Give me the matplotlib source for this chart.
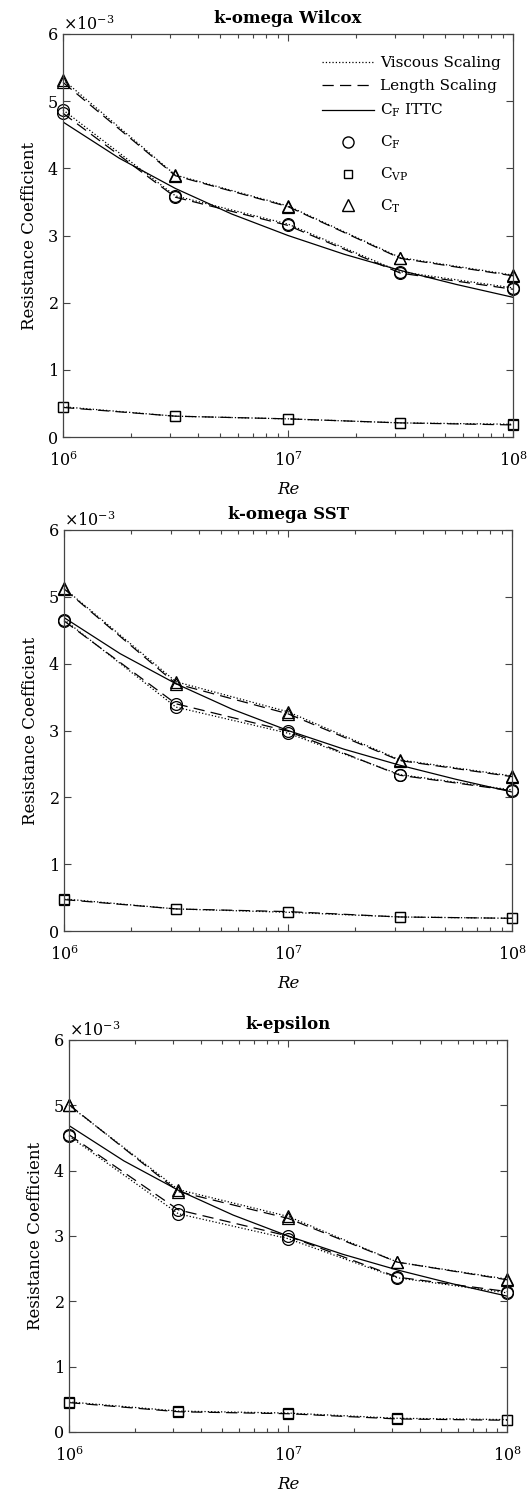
import matplotlib
matplotlib.use('Agg')
import matplotlib.pyplot as plt
from matplotlib.lines import Line2D
import matplotlib.ticker as ticker

plt.rcParams['font.family'] = ['DejaVu Serif']
plt.rcParams['mathtext.fontset'] = 'dejavuserif'

re_vals = [1e6, 3.16e6, 1e7, 3.16e7, 1e8]

# ITTC friction line (x1e-3)
ittc_re = [1e6, 1.78e6, 3.16e6, 5.62e6, 1e7, 1.78e7, 3.16e7, 5.62e7, 1e8]
ittc_cf = [4.69, 4.15, 3.70, 3.32, 3.00, 2.72, 2.48, 2.27, 2.08]

titles = ['k-omega Wilcox', 'k-omega SST', 'k-epsilon']

# values x1e-3, viscous scaling / length scaling
cf_visc = [[4.87, 3.59, 3.17, 2.46, 2.22],
           [4.66, 3.35, 2.96, 2.34, 2.11],
           [4.53, 3.34, 2.96, 2.36, 2.13]]
cf_len = [[4.82, 3.57, 3.15, 2.44, 2.20],
          [4.64, 3.40, 2.99, 2.33, 2.10],
          [4.55, 3.40, 3.00, 2.37, 2.15]]
cvp_visc = [[0.45, 0.31, 0.27, 0.21, 0.19],
            [0.48, 0.33, 0.28, 0.21, 0.19],
            [0.46, 0.32, 0.29, 0.21, 0.19]]
cvp_len = [[0.44, 0.31, 0.27, 0.21, 0.18],
           [0.47, 0.33, 0.29, 0.21, 0.19],
           [0.45, 0.31, 0.28, 0.20, 0.18]]
ct_visc = [[5.32, 3.90, 3.44, 2.67, 2.41],
           [5.13, 3.73, 3.28, 2.56, 2.32],
           [5.00, 3.71, 3.30, 2.60, 2.34]]
ct_len = [[5.28, 3.89, 3.43, 2.66, 2.40],
          [5.12, 3.70, 3.25, 2.55, 2.31],
          [5.01, 3.68, 3.27, 2.60, 2.33]]

fig = plt.figure(figsize=(5.28, 14.93), dpi=100)
W, H = 528., 1493.
boxes = [(63, 34, 513, 437), (64, 530, 512, 931), (69, 1040, 507, 1432)]
DASH = (9, 5)

for i, (x0, y0, x1, y1) in enumerate(boxes):
    ax = fig.add_axes([x0 / W, 1 - y1 / H, (x1 - x0) / W, (y1 - y0) / H])
    s = 1e-3
    ax.plot(ittc_re, [v * s for v in ittc_cf], '-', color='k', lw=0.9)
    for vis, ln, mk, ms in [(cf_visc[i], cf_len[i], 'o', 8.5),
                            (cvp_visc[i], cvp_len[i], 's', 6.5),
                            (ct_visc[i], ct_len[i], '^', 9)]:
        ax.plot(re_vals, [v * s for v in vis], ':', color='k', lw=0.9,
                marker=mk, ms=ms, mfc='none', mec='k', mew=0.9, clip_on=False)
        ax.plot(re_vals, [v * s for v in ln], '--', color='k', lw=0.9,
                dashes=DASH, marker=mk, ms=ms, mfc='none', mec='k', mew=0.9,
                clip_on=False)
    ax.set_xscale('log')
    ax.set_xlim(1e6, 1e8)
    ax.set_ylim(0, 6e-3)
    ax.set_yticks([k * 1e-3 for k in range(7)])
    ax.ticklabel_format(axis='y', style='sci', scilimits=(0, 0), useMathText=True)
    ax.yaxis.get_offset_text().set_fontsize(11.5)
    ax.xaxis.set_major_locator(ticker.LogLocator(base=10, numticks=5))
    ax.tick_params(which='both', direction='in', top=True, right=True,
                   labelsize=11.5, width=0.8, color='#444444')
    ax.tick_params(which='major', length=5)
    ax.tick_params(which='minor', length=3)
    ax.tick_params(axis='x', pad=10)
    for sp in ax.spines.values():
        sp.set_linewidth(0.9)
        sp.set_color('#444444')
    ax.set_title(titles[i], fontweight='bold', fontsize=12, pad=8)
    ax.set_ylabel('Resistance Coefficient', fontsize=12, labelpad=6)
    ax.set_xlabel('Re', fontstyle='italic', fontsize=12, labelpad=8)

    if i == 0:
        line_h = [Line2D([], [], color='k', ls=':', lw=0.9),
                  Line2D([], [], color='k', ls='--', dashes=DASH, lw=0.9),
                  Line2D([], [], color='k', ls='-', lw=0.9)]
        line_l = ['Viscous Scaling', 'Length Scaling', r'C$_\mathrm{F}$ ITTC']
        mark_h = [Line2D([], [], color='k', ls='none', marker='o', ms=8, mfc='none'),
                  Line2D([], [], color='k', ls='none', marker='s', ms=6, mfc='none'),
                  Line2D([], [], color='k', ls='none', marker='^', ms=8, mfc='none')]
        mark_l = [r'C$_\mathrm{F}$', r'C$_\mathrm{VP}$', r'C$_\mathrm{T}$']
        xa = (322 - x0) / (x1 - x0)
        leg1 = ax.legend(line_h, line_l, loc='upper left', bbox_to_anchor=(xa, 0.945),
                         frameon=False, fontsize=11, handlelength=3.4,
                         handletextpad=0.4, labelspacing=0.58,
                         borderpad=0, borderaxespad=0)
        ax.add_artist(leg1)
        ax.legend(mark_h, mark_l, loc='upper left', bbox_to_anchor=(xa, 0.752),
                  frameon=False, fontsize=11, handlelength=3.4,
                  handletextpad=0.4, labelspacing=0.95,
                  borderpad=0, borderaxespad=0)

fig.savefig('out.png', dpi=100)
